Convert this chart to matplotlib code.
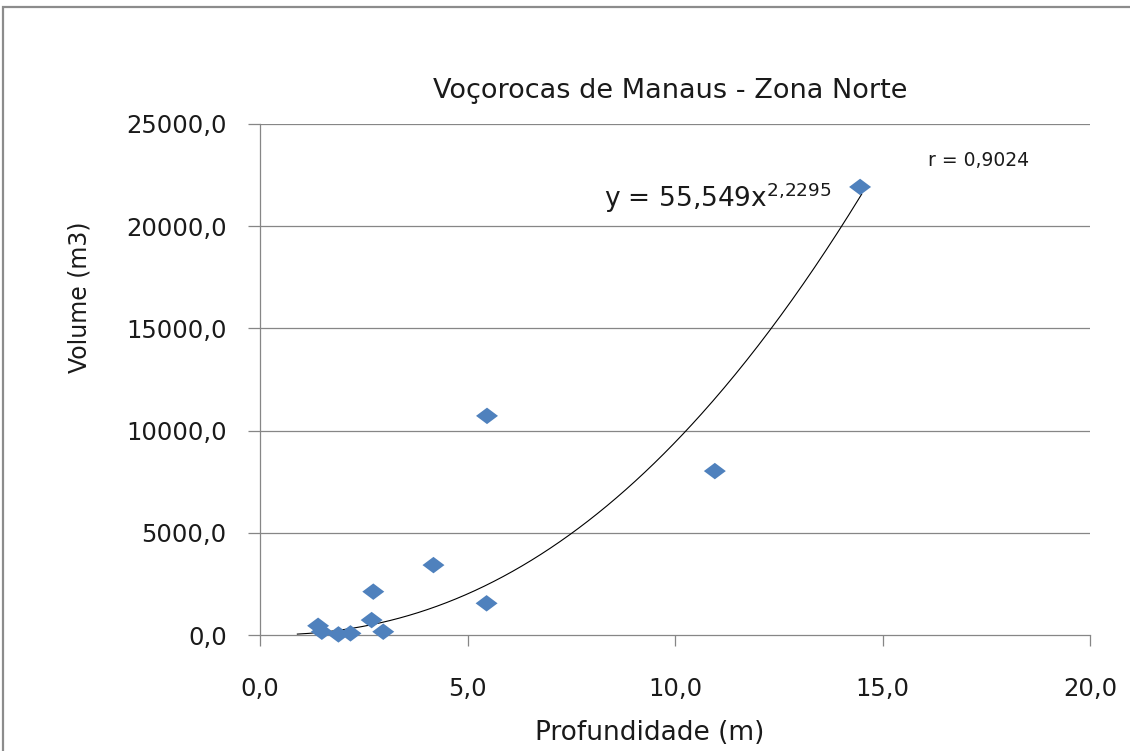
import numpy as np
import matplotlib
matplotlib.use("Agg")
import matplotlib.pyplot as plt
from matplotlib.patches import Rectangle

# --- Data ---
profundidade = [1.40, 1.49, 1.89, 2.18, 2.69, 2.73, 2.97, 4.18, 5.46, 5.47, 10.96, 14.46]
volume = [450, 160, 30, 80, 730, 2120, 160, 3420, 1550, 10720, 8020, 21920]

# Power trendline reported on the chart: y = A * x^B
TREND_A = 55.549
TREND_B = 2.2295
TREND_X = (0.9, 14.5)
R_VALUE = "0,9024"

X_TICKS = [0, 5, 10, 15, 20]
Y_TICKS = [0, 5000, 10000, 15000, 20000, 25000]

TITLE = "Voçorocas de Manaus - Zona Norte"
XLABEL = "Profundidade (m)"
YLABEL = "Volume (m3)"

# --- Figure ---
W, H = 1130, 751
fig = plt.figure(figsize=(W / 100, H / 100), dpi=100)
plt.rcParams['font.family'] = ['DejaVu Sans']

ax = fig.add_axes([260 / W, 1 - 635 / H, (1090 - 260) / W, (635 - 124) / H])

# chart border (only top/left visible in the crop)
fig.patches.append(Rectangle((3 / W, -0.1), 1.2, 1 - 6.5 / H + 0.1,
                             transform=fig.transFigure, fill=False,
                             edgecolor='#8c8c8c', lw=1.6))

grid_c = '#868686'
for y in Y_TICKS[1:]:
    ax.axhline(y, color=grid_c, lw=0.9, zorder=1)

# scatter with a slightly flattened diamond
diamond = [(-1, 0), (0, 0.75), (1, 0), (0, -0.75), (-1, 0)]
ax.scatter(profundidade, volume, marker=diamond, s=250, color='#4F81BD',
           edgecolors='none', zorder=3, clip_on=False)

# trendline
xt = np.linspace(TREND_X[0], TREND_X[1], 300)
ax.plot(xt, TREND_A * xt ** TREND_B, color='black', lw=0.8, zorder=2)

ax.set_xlim(0, 20)
ax.set_ylim(0, 25000)
ax.set_xticks(X_TICKS)
ax.set_yticks(Y_TICKS)
ax.set_xticklabels([f"{v:.1f}".replace('.', ',') for v in X_TICKS])
ax.set_yticklabels([f"{v:.1f}".replace('.', ',') for v in Y_TICKS])

for s in ['top', 'right']:
    ax.spines[s].set_visible(False)
for s in ['left', 'bottom']:
    ax.spines[s].set_color(grid_c)
    ax.spines[s].set_linewidth(0.9)

ax.tick_params(axis='x', direction='out', length=8, width=0.9, color=grid_c,
               labelsize=17.5, pad=22, labelcolor='#1a1a1a')
ax.tick_params(axis='y', direction='out', length=9, width=0.9, color=grid_c,
               labelsize=17.5, pad=15, labelcolor='#1a1a1a')

# texts
fig.text(670 / W, 1 - 91 / H, TITLE, ha='center', va='center', fontsize=19.5,
         color='#1a1a1a')
fig.text(650 / W, 1 - 733 / H, XLABEL, ha='center', va='center', fontsize=19,
         color='#1a1a1a')
fig.text(80 / W, 1 - 297 / H, YLABEL, ha='center', va='center', fontsize=17,
         rotation=90, color='#1a1a1a')
eq = f"y = {TREND_A:.3f}".replace('.', ',') + "x$^{" + f"{TREND_B:.4f}".replace('.', '{,}') + "}$"
fig.text(604 / W, 1 - 198 / H, eq, ha='left', va='center', fontsize=19,
         color='#1a1a1a')
fig.text(928 / W, 1 - 160 / H, f"r = {R_VALUE}", ha='left', va='center',
         fontsize=13.5, color='#1a1a1a')

fig.savefig("out.png", dpi=100, facecolor='white')
